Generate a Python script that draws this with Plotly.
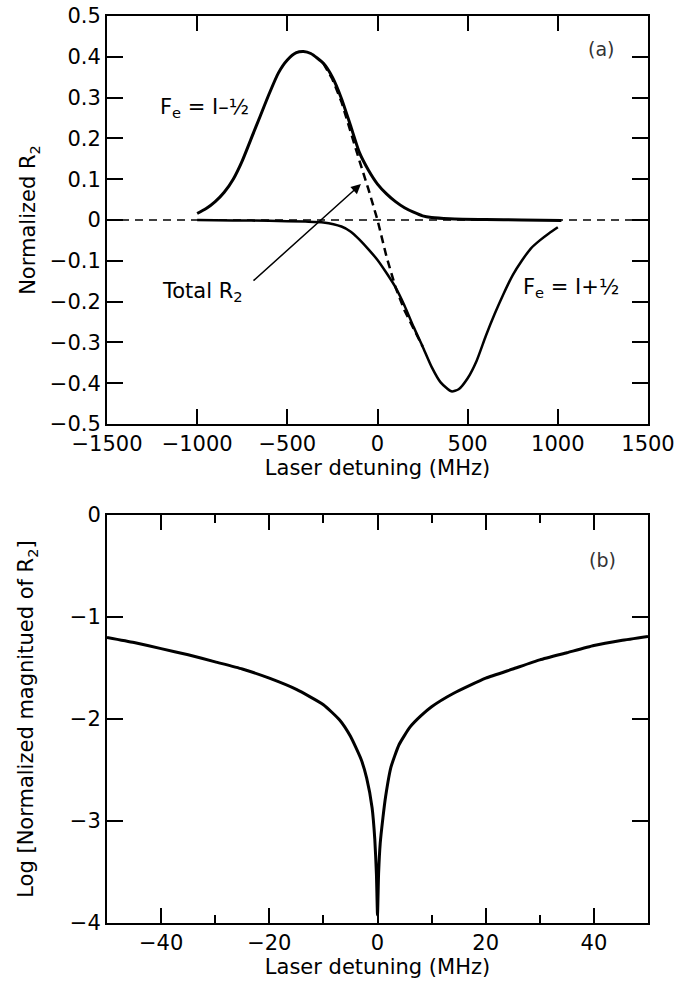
import plotly.graph_objects as go

# ---------------- Panel (a) data ----------------
minus_x = [-1000, -950, -900, -850, -800, -750, -700, -650, -600, -550, -500, -450, -410,
           -370, -300, -250, -200, -150, -100, -50, 0, 50, 100, 150, 200, 250, 300, 400,
           600, 800, 1020]
minus_y = [0.016, 0.028, 0.045, 0.068, 0.100, 0.145, 0.200, 0.255, 0.310, 0.360, 0.392,
           0.410, 0.413, 0.408, 0.384, 0.350, 0.298, 0.232, 0.165, 0.122, 0.088, 0.064,
           0.045, 0.030, 0.019, 0.010, 0.006, 0.003, 0.001, 0.000, -0.001]

plus_x = [-1000, -800, -600, -400, -300, -200, -150, -100, -50, 0, 50, 100, 150, 200, 250,
          300, 350, 410, 450, 500, 550, 600, 650, 700, 750, 800, 850, 900, 950, 1000]
plus_y = [0.000, -0.001, -0.002, -0.004, -0.006, -0.016, -0.028, -0.048, -0.072, -0.098,
          -0.130, -0.165, -0.210, -0.262, -0.310, -0.360, -0.398, -0.420, -0.415, -0.388,
          -0.345, -0.285, -0.230, -0.180, -0.135, -0.100, -0.070, -0.050, -0.033, -0.018]

total_x = [-300, -250, -200, -150, -100, -50, 0, 50, 100, 150, 200, 250]
total_y = [0.384, 0.345, 0.290, 0.215, 0.145, 0.075, 0.000, -0.090, -0.165, -0.222, -0.268, -0.310]

a_xticks = [-1500, -1000, -500, 0, 500, 1000, 1500]
a_xlabels = ["−1500", "−1000", "−500", "0", "500", "1000", "1500"]
a_yticks = [0.5, 0.4, 0.3, 0.2, 0.1, 0, -0.1, -0.2, -0.3, -0.4, -0.5]
a_ylabels = ["0.5", "0.4", "0.3", "0.2", "0.1", "0", "−0.1", "−0.2", "−0.3", "−0.4", "−0.5"]

# ---------------- Panel (b) data ----------------
log_x = [-50, -45, -40, -35, -30, -25, -20, -15, -10, -7, -5, -3, -2, -1, -0.5, -0.2, 0,
         0.2, 0.5, 1, 1.5, 2.5, 4, 6, 8, 10, 14, 20, 25, 30, 35, 40, 45, 50]
log_y = [-1.20, -1.25, -1.31, -1.37, -1.44, -1.51, -1.60, -1.71, -1.86, -2.01, -2.17, -2.40,
         -2.58, -2.87, -3.18, -3.52, -3.92,
         -3.52, -3.22, -2.97, -2.76, -2.47, -2.25, -2.08, -1.97, -1.88, -1.75, -1.60, -1.51,
         -1.42, -1.35, -1.28, -1.23, -1.19]

b_xticks = [-40, -20, 0, 20, 40]
b_xlabels = ["−40", "−20", "0", "20", "40"]
b_yticks = [0, -1, -2, -3, -4]
b_ylabels = ["0", "−1", "−2", "−3", "−4"]

FONT = "DejaVu Sans, Liberation Sans, Arial, sans-serif"
BLACK = "black"

fig = go.Figure()

fig.add_trace(go.Scatter(x=total_x, y=total_y, mode="lines", xaxis="x", yaxis="y",
                         line=dict(color=BLACK, width=2.5, dash="8px,5px"), showlegend=False))
fig.add_trace(go.Scatter(x=minus_x, y=minus_y, mode="lines", xaxis="x", yaxis="y",
                         line=dict(color=BLACK, width=3, shape="spline", smoothing=0.6),
                         showlegend=False))
fig.add_trace(go.Scatter(x=plus_x, y=plus_y, mode="lines", xaxis="x", yaxis="y",
                         line=dict(color=BLACK, width=2.5, shape="spline", smoothing=0.6),
                         showlegend=False))
fig.add_trace(go.Scatter(x=log_x, y=log_y, mode="lines", xaxis="x2", yaxis="y2",
                         line=dict(color=BLACK, width=3, shape="spline", smoothing=0.5),
                         showlegend=False))

tick_font = dict(family=FONT, size=21, color=BLACK)
title_font = dict(family=FONT, size=21, color=BLACK)
axis_common = dict(showline=True, linecolor=BLACK, linewidth=2, mirror="allticks",
                   ticks="inside", tickcolor=BLACK, tickwidth=1.5, showgrid=False,
                   zeroline=False, tickfont=tick_font, automargin=False)

fig.update_layout(
    template="none",
    width=700, height=988,
    paper_bgcolor="white", plot_bgcolor="white",
    margin=dict(l=107, r=52, t=16, b=65),
    font=dict(family=FONT, size=21, color=BLACK),
    showlegend=False,
    xaxis=dict(domain=[0, 1], anchor="y", range=[-1500, 1500], tickmode="array",
               tickvals=a_xticks, ticktext=a_xlabels, ticklen=15,
               title=dict(text="Laser detuning (MHz)", standoff=2, font=title_font),
               **axis_common),
    yaxis=dict(domain=[0.5502, 1], anchor="x", range=[-0.5, 0.5], tickmode="array",
               tickvals=a_yticks, ticktext=a_ylabels, ticklen=16,
               title=dict(text="Normalized R<sub>2</sub>", standoff=8, font=title_font),
               **axis_common),
    xaxis2=dict(domain=[0, 1], anchor="y2", range=[-50, 50], tickmode="array",
                tickvals=b_xticks, ticktext=b_xlabels, ticklen=15,
                minor=dict(dtick=10, tick0=0, ticks="inside", ticklen=8, tickcolor=BLACK,
                           tickwidth=1.5),
                title=dict(text="Laser detuning (MHz)", standoff=2, font=title_font),
                **axis_common),
    yaxis2=dict(domain=[0, 0.4498], anchor="x2", range=[-4, 0], tickmode="array",
                tickvals=b_yticks, ticktext=b_ylabels, ticklen=16,
                title=dict(text="Log [Normalized magnitued of R<sub>2</sub>]", standoff=30,
                           font=title_font),
                **axis_common),
)

# zero reference line (dashed) in panel (a)
fig.add_shape(type="line", xref="x domain", yref="y", x0=0, x1=1, y0=0, y1=0,
              line=dict(color=BLACK, width=1.5, dash="8px,6px"), layer="below")

ann_font = dict(family=FONT, size=21, color=BLACK)
fig.add_annotation(x=-962, y=0.275, xref="x", yref="y", text="F<sub>e</sub> = I–½",
                   showarrow=False, font=ann_font)
fig.add_annotation(x=1073, y=-0.167, xref="x", yref="y", text="F<sub>e</sub> = I+½",
                   showarrow=False, font=ann_font)
fig.add_annotation(x=-973, y=-0.176, xref="x", yref="y", text="Total R<sub>2</sub>",
                   showarrow=False, font=ann_font)
fig.add_annotation(x=-92, y=0.088, ax=-696, ay=-0.152, xref="x", yref="y",
                   axref="x", ayref="y", text="", showarrow=True, arrowhead=2,
                   arrowsize=1.3, arrowwidth=1.5, arrowcolor=BLACK, standoff=0)
fig.add_annotation(x=1240, y=0.42, xref="x", yref="y", text="(a)", showarrow=False,
                   font=dict(family=FONT, size=19, color="#333"))
fig.add_annotation(x=41.5, y=-0.44, xref="x2", yref="y2", text="(b)", showarrow=False,
                   font=dict(family=FONT, size=19, color="#333"))

fig.write_html("out.html")
